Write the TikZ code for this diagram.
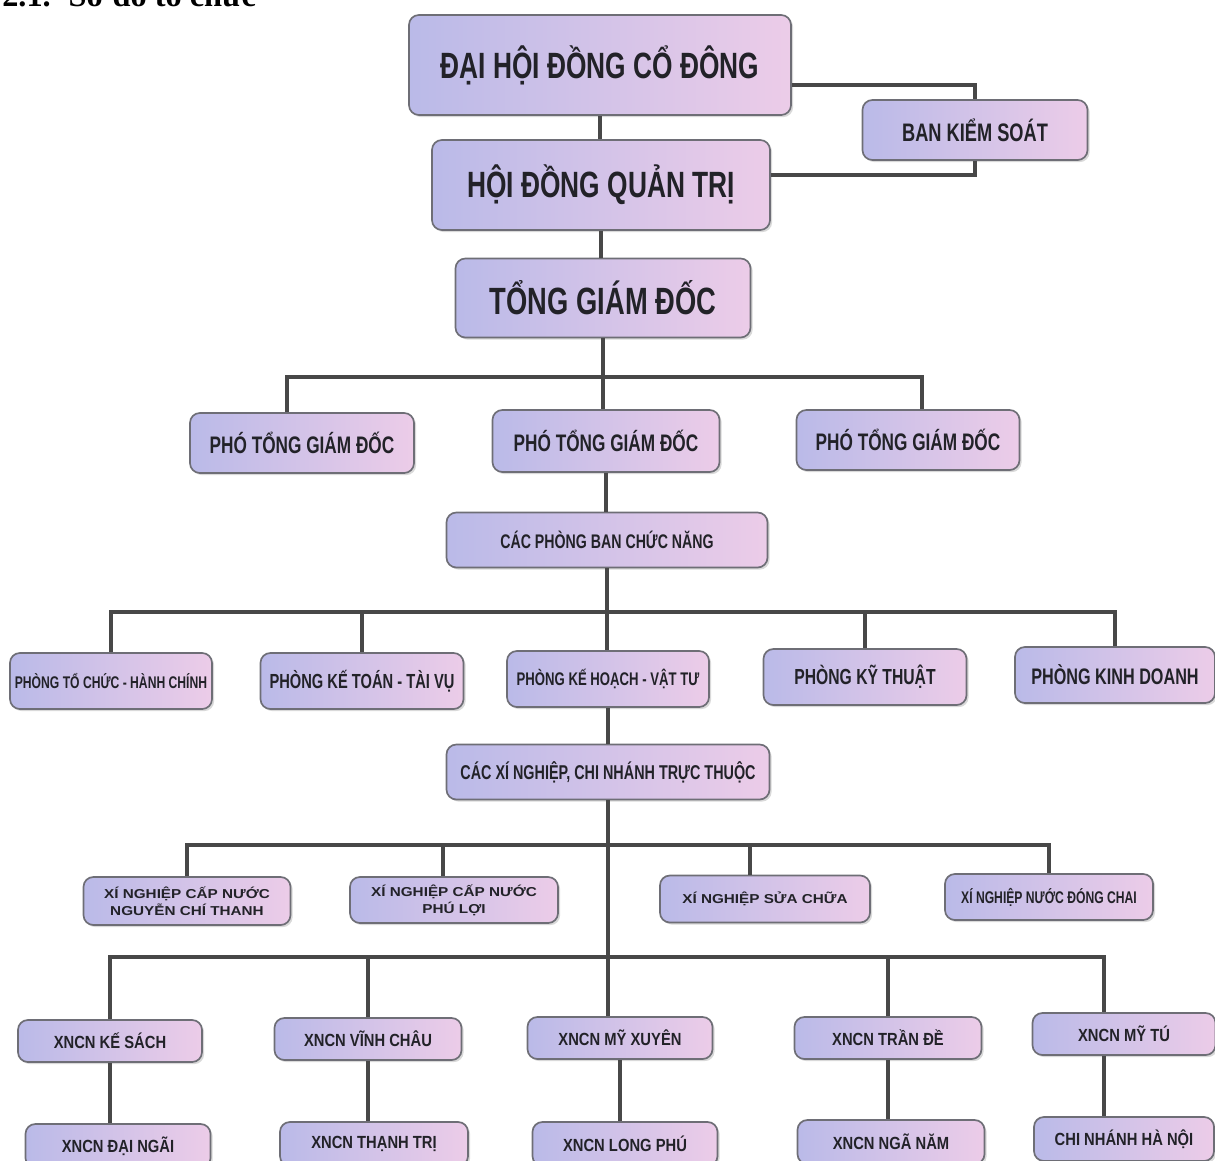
\documentclass[tikz,border=0pt]{standalone}
\usepackage{fontspec}
\setmainfont{Liberation Serif}
\newfontfamily\boxfont[FakeStretch=0.72]{Liberation Sans}
\newfontfamily\rowfont[FakeStretch=0.84]{Liberation Sans}
\newfontfamily\widefont[FakeStretch=1.18]{Liberation Sans}
\usetikzlibrary{shadows}
\definecolor{boxblue}{RGB}{186,186,232}
\definecolor{boxpink}{RGB}{236,204,232}
\definecolor{boxmist}{RGB}{226,226,242}
\definecolor{boxedge}{RGB}{110,110,118}
\definecolor{linkgray}{RGB}{72,72,72}
\definecolor{textdark}{RGB}{34,34,40}

\begin{document}
\begin{tikzpicture}[x=0.025cm, y=-0.025cm,
    orgbox/.style={draw=boxedge, line width=1.2pt, rounded corners=7pt,
      left color=boxblue, middle color=boxmist, right color=boxpink,
      text=textdark, align=center, inner sep=2pt,
      drop shadow={shadow xshift=1.5pt, shadow yshift=-1.5pt, opacity=0.3}},
    sz/.style 2 args={minimum width=#1*0.025cm, minimum height=#2*0.025cm},
    fnt/.style={font=\boxfont\bfseries\fontsize{#1}{#1}\selectfont},
    rowfnt/.style={font=\rowfont\bfseries\fontsize{12.5}{12.5}\selectfont},
    widefnt/.style={font=\widefont\bfseries\fontsize{9.2}{12}\selectfont},
    link/.style={draw=linkgray, line width=2.2pt}]
  \useasboundingbox (0,0) rectangle (1215,1160);

  % heading (cut by the page top)
  \node[anchor=base west, inner sep=0pt, font=\bfseries\fontsize{23}{23}\selectfont] (title) at (2,6) {2.1.\hspace{0.55em}Sơ đồ tổ chức};

  % top levels
  \node[orgbox, sz={382}{100}, fnt=26] (dhd) at (600,65) {ĐẠI HỘI ĐỒNG CỔ ĐÔNG};
  \node[orgbox, sz={225}{60}, fnt=18] (bks) at (975,130) {BAN KIỂM SOÁT};
  \node[orgbox, sz={338}{90}, fnt=26] (hdqt) at (601,185) {HỘI ĐỒNG QUẢN TRỊ};
  \node[orgbox, sz={295}{79}, fnt=27] (tgd) at (603,298) {TỔNG GIÁM ĐỐC};

  % deputies
  \node[orgbox, sz={224}{60}, fnt=17] (ptgd1) at (302,443) {PHÓ TỔNG GIÁM ĐỐC};
  \node[orgbox, sz={227}{62}, fnt=17] (ptgd2) at (606,441) {PHÓ TỔNG GIÁM ĐỐC};
  \node[orgbox, sz={223}{60}, fnt=17] (ptgd3) at (908,440) {PHÓ TỔNG GIÁM ĐỐC};

  % departments
  \node[orgbox, sz={321}{55}, fnt=14] (cpb) at (607,540) {CÁC PHÒNG BAN CHỨC NĂNG};
  \node[orgbox, sz={202}{56}, fnt=12] (ptc) at (111,681) {PHÒNG TỔ CHỨC - HÀNH CHÍNH};
  \node[orgbox, sz={203}{56}, fnt=14.5] (pkt) at (362,681) {PHÒNG KẾ TOÁN - TÀI VỤ};
  \node[orgbox, sz={202}{56}, fnt=13] (pkh) at (608,679) {PHÒNG KẾ HOẠCH - VẬT TƯ};
  \node[orgbox, sz={203}{56}, fnt=15.5] (pkyt) at (865,677) {PHÒNG KỸ THUẬT};
  \node[orgbox, sz={200}{56}, fnt=16] (pkd) at (1115,675) {PHÒNG KINH DOANH};

  % units
  \node[orgbox, sz={323}{55}, fnt=14.2] (cxn) at (608,772) {CÁC XÍ NGHIỆP, CHI NHÁNH TRỰC THUỘC};
  \node[orgbox, sz={207}{48}, widefnt] (xnct) at (187,901) {XÍ NGHIỆP CẤP NƯỚC\\NGUYỄN CHÍ THANH};
  \node[orgbox, sz={208}{46}, widefnt] (xnpl) at (454,900) {XÍ NGHIỆP CẤP NƯỚC\\PHÚ LỢI};
  \node[orgbox, sz={210}{47}, widefnt] (xnsc) at (765,899) {XÍ NGHIỆP SỬA CHỮA};
  \node[orgbox, sz={208}{46}, fnt=12] (xnnd) at (1049,897) {XÍ NGHIỆP NƯỚC ĐÓNG CHAI};

  % branches
  \node[orgbox, sz={184}{42}, rowfnt] (kesach) at (110,1041) {XNCN KẾ SÁCH};
  \node[orgbox, sz={187}{42}, rowfnt] (vinhchau) at (368,1039) {XNCN VĨNH CHÂU};
  \node[orgbox, sz={185}{42}, rowfnt] (mxuyen) at (620,1038) {XNCN MỸ XUYÊN};
  \node[orgbox, sz={187}{42}, rowfnt] (trande) at (888,1038) {XNCN TRẦN ĐỀ};
  \node[orgbox, sz={183}{42}, rowfnt] (mytu) at (1124,1034) {XNCN MỸ TÚ};
  \node[orgbox, sz={185}{44}, rowfnt] (daingai) at (118,1146) {XNCN ĐẠI NGÃI};
  \node[orgbox, sz={188}{44}, rowfnt] (thanhtri) at (374,1144) {XNCN THẠNH TRỊ};
  \node[orgbox, sz={185}{44}, rowfnt] (longphu) at (625,1144) {XNCN LONG PHÚ};
  \node[orgbox, sz={187}{44}, rowfnt] (nganam) at (891,1142) {XNCN NGÃ NĂM};
  \node[orgbox, sz={180}{44}, rowfnt] (hanoi) at (1124,1139) {CHI NHÁNH HÀ NỘI};

  % connectors
  \draw[link] (dhd.south) -- (dhd.south |- hdqt.north);
  \draw[link] (hdqt.south) -- (hdqt.south |- tgd.north);
  \draw[link] ([yshift=-0.5cm]dhd.east) -| (bks.north);
  \draw[link] ([yshift=0.25cm]hdqt.east) -| (bks.south);

  \coordinate (busA) at (608,377);
  \draw[link] (tgd.south) -- (tgd.south |- ptgd2.north);
  \draw[link] ([xshift=-0.375cm]ptgd1.north) |- (busA) -| ([xshift=0.35cm]ptgd3.north);
  \draw[link] (ptgd2.south) -- (ptgd2.south |- cpb.north);

  \coordinate (busB) at (612,612);
  \draw[link] (cpb.south) -- (cpb.south |- pkh.north);
  \draw[link] (ptc.north) |- (busB) -| (pkd.north);
  \foreach \d in {pkt, pkyt}
    \draw[link] (\d.north) -- (\d.north |- busB);

  \draw[link] (pkh.south) -- (pkh.south |- cxn.north);
  \draw[link] (cxn.south) -- (cxn.south |- mxuyen.north);

  \coordinate (busC) at (612,845);
  \draw[link] (xnct.north) |- (busC) -| (xnnd.north);
  \draw[link] ([xshift=-0.275cm]xnpl.north) -- ([xshift=-0.275cm]xnpl.north |- busC);
  \draw[link] ([xshift=-0.375cm]xnsc.north) -- ([xshift=-0.375cm]xnsc.north |- busC);

  \coordinate (busD) at (612,957);
  \draw[link] (kesach.north) |- (busD) -| ([xshift=-0.5cm]mytu.north);
  \foreach \d in {vinhchau, trande}
    \draw[link] (\d.north) -- (\d.north |- busD);

  \foreach \a/\b in {kesach/daingai, vinhchau/thanhtri, mxuyen/longphu, trande/nganam}
    \draw[link] (\a.south) -- (\a.south |- \b.north);
  \draw[link] ([xshift=-0.5cm]mytu.south) -- ([xshift=-0.5cm]mytu.south |- hanoi.north);
\end{tikzpicture}
\end{document}
